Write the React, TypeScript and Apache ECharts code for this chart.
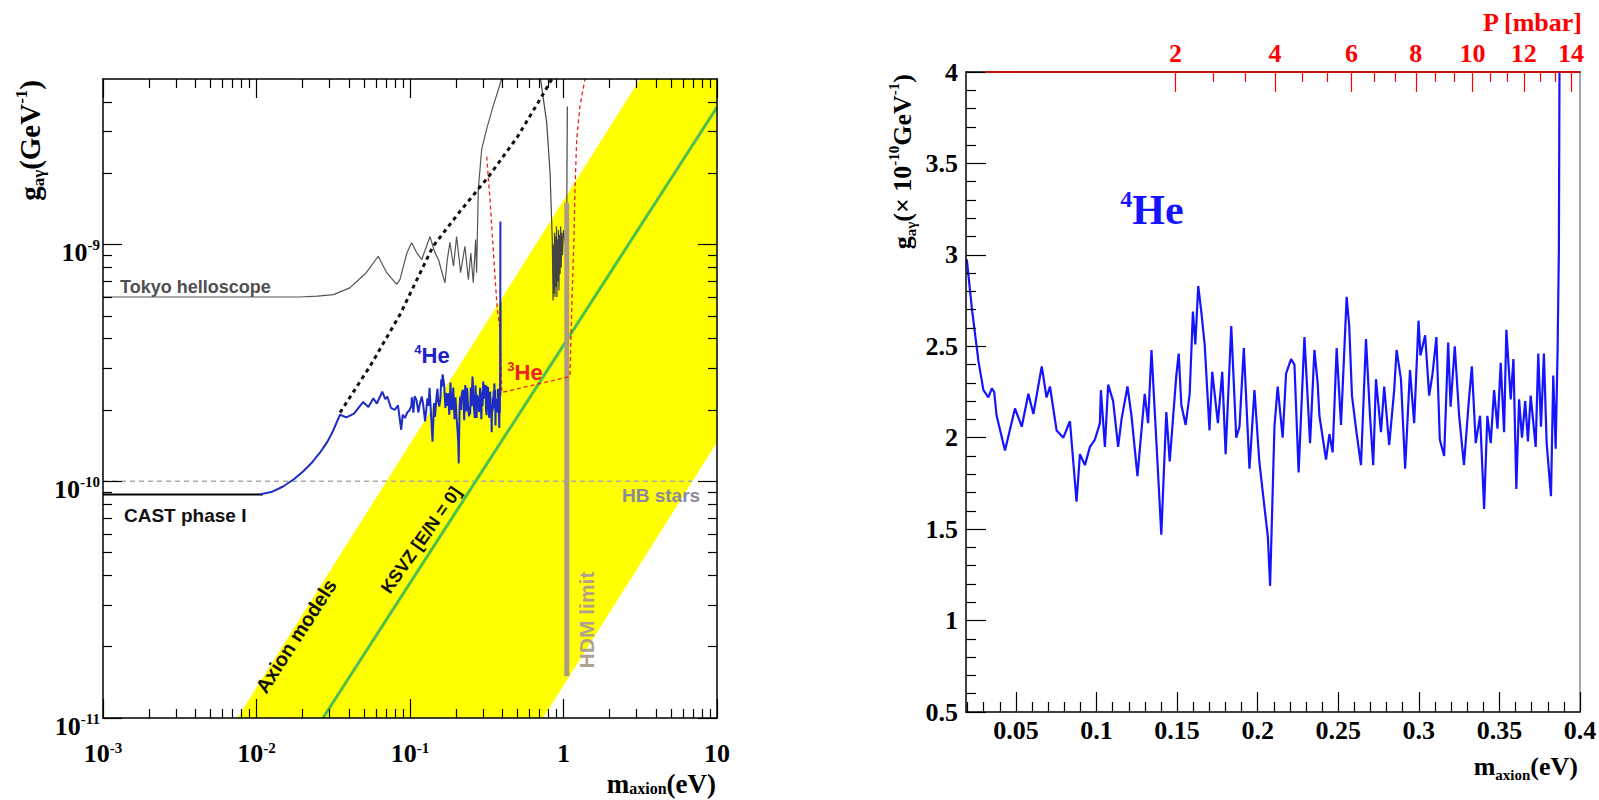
import React, { useEffect, useRef } from "react";
import * as echarts from "echarts";

const L10 = Math.log10;

// ---------------- Left panel (m in eV, g in GeV^-1) ----------------
const massDecades = [1e-3, 1e-2, 1e-1, 1, 10];
const couplingDecades = [1e-11, 1e-10, 1e-9];
const minorMultipliers = [2, 3, 4, 5, 6, 7, 8, 9];
const massRange = [1e-3, 10];
const couplingRange = [1e-11, 5e-9];

const axionBand = [
  [0.0075, 1e-11], [3.15, 5e-9], [10, 5e-9], [10, 1.46e-10], [0.735, 1e-11],
];
const ksvzLine = [[0.0271, 1e-11], [10, 3.8e-9]];
const hbStars = [[0.001, 1e-10], [6.9, 1e-10]];
const castPhase1 = [[0.001, 8.8e-11], [0.011, 8.8e-11]];
const hdmLimit = [[1.05, 1.5e-11], [1.05, 1.5e-9]];
const castStep = [[0.389, 2.3e-10], [0.389, 5.7e-10]];

// 4He low-mass part of the combined limit (units of 1e-10 GeV^-1)
const he4LowMass = [
  [0.0105, 0.88], [0.0125, 0.9], [0.0149, 0.95], [0.0175, 1.02], [0.0201, 1.1],
  [0.023, 1.2], [0.0259, 1.32], [0.029, 1.47], [0.0315, 1.63], [0.035, 1.91], [0.0385, 1.86],
];

const tokyo1998 = [
  [0.001, 6.0e-10], [0.0192, 6.0e-10], [0.025, 6.05e-10], [0.0317, 6.14e-10], [0.0405, 6.56e-10],
  [0.0519, 7.6e-10], [0.0621, 8.92e-10], [0.0705, 7.6e-10], [0.0819, 6.78e-10], [0.086, 7.1e-10],
  [0.0954, 9.2e-10], [0.1025, 1.017e-9], [0.1106, 9.22e-10], [0.1193, 8.64e-10], [0.135, 1.08e-9],
  [0.1456, 9.2e-10], [0.1531, 8.64e-10], [0.169, 6.89e-10], [0.175, 8.64e-10], [0.182, 1.02e-9],
  [0.192, 8.1e-10], [0.2012, 1.08e-9], [0.2136, 7.6e-10], [0.228, 9.83e-10], [0.24, 7.1e-10],
  [0.249, 9.2e-10], [0.2584, 6.89e-10], [0.2676, 1.05e-9], [0.2716, 7.6e-10], [0.2786, 1.71e-9],
  [0.293, 2.52e-9], [0.3157, 3.07e-9], [0.348, 3.84e-9], [0.3957, 5.0e-9], [0.42, 6.0e-9],
];

const tokyo2008 = [
  [0.7, 5.3e-9], [0.777, 3.28e-9], [0.817, 2.02e-9], [0.845, 1.05e-9], [0.855, 5.8e-10],
  [0.862, 1.0e-9], [0.868, 6.2e-10], [0.874, 1.12e-9], [0.88, 6.0e-10], [0.887, 1.08e-9],
  [0.893, 6.6e-10], [0.9, 1.19e-9], [0.906, 6.0e-10], [0.913, 1.05e-9], [0.92, 7.0e-10],
  [0.927, 1.15e-9], [0.934, 6.4e-10], [0.942, 1.1e-9], [0.95, 7.5e-10], [0.958, 1.19e-9],
  [0.966, 8.0e-10], [0.975, 1.12e-9], [0.985, 9.0e-10], [1.0, 1.15e-9], [1.03, 1.0e-9],
  [1.049, 1.19e-9], [1.055, 2.5e-9], [1.059, 3.83e-9],
];

const castExpected = [
  [0.035, 1.95e-10], [0.0549, 3.06e-10], [0.0861, 5.06e-10], [0.141, 9.8e-10],
  [0.2117, 1.38e-9], [0.322, 1.92e-9], [0.498, 2.83e-9], [0.703, 4.1e-9], [0.8415, 5.0e-9],
];

const he3Prospect = [
  [0.316, 2.35e-9], [0.332, 1.55e-9], [0.352, 8.6e-10], [0.369, 5.47e-10], [0.386, 4.38e-10],
  [0.392, 3.2e-10], [0.396, 2.37e-10], [1.102, 2.77e-10], [1.136, 5.85e-10], [1.17, 1.05e-9],
  [1.188, 1.71e-9], [1.219, 2.78e-9], [1.281, 3.85e-9], [1.38, 5.0e-9],
];

// ---------------- Right panel (4He data, g in 1e-10 GeV^-1) ----------------
const rightMassRange = [0.019, 0.4];
const rightCouplingRange = [0.5, 4];
const rightMassTicks = [0.05, 0.1, 0.15, 0.2, 0.25, 0.3, 0.35, 0.4];
const pressureTicks = [2, 4, 6, 8, 10, 12, 14];
const massPerSqrtMbar = 0.1054;
const pressureAxisStart = 0.085;

const he4Mass = [
  0.0195, 0.0226, 0.0267, 0.0298, 0.0329, 0.035, 0.0365, 0.038, 0.0432, 0.0494,
  0.0536, 0.0577, 0.0608, 0.066, 0.069, 0.0711, 0.0752, 0.0794, 0.0835, 0.0876,
  0.0897, 0.0928, 0.0959, 0.099, 0.1021, 0.1027, 0.1052, 0.1072, 0.1103, 0.1134,
  0.1155, 0.1192, 0.1217, 0.1254, 0.1299, 0.132, 0.1341, 0.1402, 0.1433, 0.1454,
  0.1495, 0.151, 0.1526, 0.1553, 0.1578, 0.1598, 0.1613, 0.1631, 0.165, 0.1671,
  0.1701, 0.1718, 0.1753, 0.178, 0.1801, 0.1836, 0.1867, 0.1887, 0.1914, 0.1949,
  0.198, 0.201, 0.2042, 0.2063, 0.2077, 0.2104, 0.2124, 0.2155, 0.2176, 0.2207,
  0.2228, 0.2254, 0.229, 0.2325, 0.2352, 0.2372, 0.2383, 0.2424, 0.2445, 0.2465,
  0.249, 0.2517, 0.2552, 0.2568, 0.2585, 0.261, 0.2641, 0.2672, 0.2697, 0.2717,
  0.2734, 0.2765, 0.2785, 0.2816, 0.2847, 0.2862, 0.2889, 0.2915, 0.2945, 0.2971,
  0.2998, 0.301, 0.3039, 0.3064, 0.3085, 0.3109, 0.313, 0.3157, 0.3182, 0.3197,
  0.3223, 0.325, 0.328, 0.331, 0.3329, 0.3353, 0.338, 0.3405, 0.3425, 0.3446,
  0.3467, 0.3488, 0.3508, 0.3529, 0.3543, 0.357, 0.3587, 0.3605, 0.3622, 0.364,
  0.366, 0.3677, 0.3694, 0.3725, 0.3741, 0.3758, 0.3776, 0.3793, 0.382, 0.3834,
  0.3849, 0.3861, 0.3869, 0.3875, 0.388,
];
const he4Coupling = [
  2.975, 2.71, 2.42, 2.26, 2.22, 2.27, 2.25, 2.12, 1.93, 2.16,
  2.06, 2.24, 2.13, 2.39, 2.22, 2.28, 2.04, 2.0, 2.09, 1.65,
  1.91, 1.85, 1.95, 1.99, 2.08, 2.26, 1.95, 2.29, 2.2, 1.95,
  2.1, 2.28, 2.12, 1.79, 2.24, 2.08, 2.48, 1.47, 2.14, 1.87,
  2.34, 2.46, 2.18, 2.07, 2.24, 2.69, 2.51, 2.83, 2.69, 2.51,
  2.04, 2.36, 2.08, 2.36, 1.91, 2.61, 2.0, 2.06, 2.49, 1.83,
  2.26, 1.87, 1.62, 1.46, 1.19, 2.06, 2.28, 2.0, 2.35, 2.43,
  2.4, 1.81, 2.55, 1.97, 2.48, 2.3, 2.12, 1.88, 2.02, 1.92,
  2.49, 2.07, 2.77, 2.61, 2.23, 2.05, 1.85, 2.54, 2.12, 1.85,
  2.32, 2.03, 2.28, 1.96, 2.26, 2.48, 2.32, 1.83, 2.37, 2.08,
  2.64, 2.45, 2.56, 2.23, 2.35, 2.55, 1.99, 1.9, 2.52, 2.17,
  2.5, 2.12, 1.85, 2.2, 2.39, 1.97, 2.12, 1.61, 2.12, 1.97,
  2.26, 2.05, 2.41, 2.03, 2.59, 2.21, 2.43, 1.72, 2.21, 2.0,
  2.2, 1.98, 2.23, 1.95, 2.46, 2.06, 2.46, 1.97, 1.68, 2.34,
  1.94, 2.48, 3.03, 4.6, 12.5,
];

// ---------------- helpers ----------------
const SERIF = "'Liberation Serif', 'Times New Roman', serif";
const SANS = "'Liberation Sans', Arial, sans-serif";
const toLog = (p: number[]) => [L10(p[0]), L10(p[1])];

const leftXMinor = massDecades.slice(0, -1).flatMap((d) => minorMultipliers.map((k) => L10(k * d)));
const leftYMinor = couplingDecades
  .flatMap((d) => minorMultipliers.map((k) => k * d))
  .filter((v) => v < couplingRange[1] * 0.999)
  .map(L10);
const rightMassMinor: number[] = [];
for (let i = 2; i < 40; i++) if (i % 5 !== 0) rightMassMinor.push(i / 100);
const rightCouplingMinor: number[] = [];
for (let i = 6; i < 40; i++) if (i % 5 !== 0) rightCouplingMinor.push(i / 10);
const pressureMinor: number[] = [];
for (let p = 2; p < 14; p += 2) pressureMinor.push(p + 2 / 3, p + 4 / 3);
const pToMass = (p: number) => massPerSqrtMbar * Math.sqrt(p);

const powRich = {
  b: { fontFamily: SERIF, fontWeight: "bold", fontSize: 26, lineHeight: 30, color: "#000" },
  s: { fontFamily: SERIF, fontWeight: "bold", fontSize: 15, lineHeight: 15, verticalAlign: "top", color: "#000" },
};
const powRichX = {
  b: { fontFamily: SERIF, fontWeight: "bold", fontSize: 26, lineHeight: 26, color: "#000" },
  s: { fontFamily: SERIF, fontWeight: "bold", fontSize: 15, lineHeight: 13, verticalAlign: "top", color: "#000" },
};
const powFmt = (v: number) => {
  const e = Math.round(v);
  if (e === 0) return "{b|1}";
  if (e === 1) return "{b|10}";
  return `{b|10}{s|${e}}`;
};

function tickAxis(gridIndex: number, position: string, range: number[], values: number[], len: number, color = "#000", extra: any = {}) {
  return {
    type: "value", gridIndex, position, min: range[0], max: range[1], z: 5,
    axisLine: { show: false, onZero: false },
    splitLine: { show: false },
    axisTick: { show: true, inside: true, length: len, customValues: values, lineStyle: { color, width: 1.2 } },
    axisLabel: { show: false },
    ...extra,
  };
}

function buildOption() {
  const lxr = massRange.map(L10);
  const lyr = couplingRange.map(L10);
  const frame = { show: true, onZero: false, lineStyle: { color: "#000", width: 1.5 } };
  const plainLabel = { fontFamily: SERIF, fontWeight: "bold", fontSize: 26, color: "#000" };

  const xAxis: any[] = [
    {
      ...tickAxis(0, "bottom", lxr, massDecades.map(L10), 19),
      axisLine: frame,
      axisLabel: { show: true, customValues: massDecades.map(L10), margin: 22, formatter: powFmt, rich: powRichX },
    },
    tickAxis(0, "bottom", lxr, leftXMinor, 9),
    { ...tickAxis(0, "top", lxr, massDecades.map(L10), 19), axisLine: frame },
    tickAxis(0, "top", lxr, leftXMinor, 9),
    {
      ...tickAxis(1, "bottom", rightMassRange, rightMassTicks, 20),
      axisLine: frame,
      axisLabel: { show: true, customValues: rightMassTicks, margin: 5, ...plainLabel },
    },
    tickAxis(1, "bottom", rightMassRange, rightMassMinor, 10),
    {
      ...tickAxis(1, "top", rightMassRange, pressureTicks.map(pToMass), 20, "#ff0000"),
      axisLine: frame,
      axisLabel: {
        show: true, customValues: pressureTicks.map(pToMass), margin: 6, ...plainLabel, color: "#ff0000",
        formatter: (v: number) => String(Math.round((v / massPerSqrtMbar) ** 2)),
      },
    },
    tickAxis(1, "top", rightMassRange, pressureMinor.map(pToMass), 10, "#ff0000"),
  ];

  const yAxis: any[] = [
    {
      ...tickAxis(0, "left", lyr, couplingDecades.map(L10), 19),
      axisLine: frame,
      axisLabel: { show: true, customValues: couplingDecades.map(L10), margin: 3, padding: [16, 0, 0, 0], formatter: powFmt, rich: powRich },
    },
    tickAxis(0, "left", lyr, leftYMinor, 9),
    { ...tickAxis(0, "right", lyr, couplingDecades.map(L10), 19), axisLine: frame },
    tickAxis(0, "right", lyr, leftYMinor, 9),
    {
      type: "value", gridIndex: 1, position: "left", min: 0.5, max: 4, interval: 0.5, z: 5,
      axisLine: frame, splitLine: { show: false },
      axisTick: { show: true, inside: true, length: 20, lineStyle: { color: "#000", width: 1.2 } },
      axisLabel: { show: true, margin: 8, ...plainLabel },
    },
    tickAxis(1, "left", rightCouplingRange, rightCouplingMinor, 10),
    {
      ...tickAxis(1, "right", rightCouplingRange, [], 0),
      axisTick: { show: false },
      axisLine: { show: true, onZero: false, lineStyle: { color: "#888", width: 1.5 } },
    },
  ];

  const L = (data: number[][], color: string, width: number, type: any = "solid", z = 3, extra: any = {}) => ({
    type: "line", xAxisIndex: 0, yAxisIndex: 0, data: data.map(toLog), showSymbol: false, symbol: "none",
    z, silent: true, lineStyle: { color, width, type }, ...extra,
  });

  const he4Left = [
    ...he4LowMass.map(([m, g]) => [m, g * 1e-10]),
    ...he4Mass.map((m, i) => [m, he4Coupling[i] * 1e-10]).filter((p) => p[0] >= 0.043),
  ];

  const series: any[] = [
    {
      type: "custom", xAxisIndex: 0, yAxisIndex: 0, z: 1, silent: true,
      data: [[0, -10]],
      renderItem: (_p: any, api: any) => ({
        type: "polygon",
        shape: { points: axionBand.map((p) => api.coord(toLog(p))) },
        style: { fill: "#ffff00" },
      }),
    },
    L(hbStars, "#aaaaaa", 1.3, [5, 4], 2),
    L(ksvzLine, "#4cc04c", 3, "solid", 2),
    L(tokyo1998, "#555555", 1.2, "solid", 3),
    L(tokyo2008, "#444444", 1.2, "solid", 3),
    L(hdmLimit, "#b09a82", 5, "solid", 3),
    L(castExpected, "#111111", 3, [4, 4], 3),
    L(castPhase1, "#000000", 2, "solid", 3),
    L(castStep, "#000000", 1.5, "solid", 3),
    L(he3Prospect, "#ee2020", 1.3, [4, 3], 3),
    L(he4Left, "#1c2cc4", 2, "solid", 4),
    {
      type: "line", xAxisIndex: 4, yAxisIndex: 4, showSymbol: false, symbol: "none", z: 3, silent: true,
      data: he4Mass.map((m, i) => [m, he4Coupling[i]]),
      lineStyle: { color: "#1414ff", width: 2.2 },
    },
    {
      type: "line", xAxisIndex: 4, yAxisIndex: 4, showSymbol: false, symbol: "none", z: 6, silent: true, clip: false,
      data: [[pToMass(pressureAxisStart), rightCouplingRange[1]], [rightMassRange[1], rightCouplingRange[1]]],
      lineStyle: { color: "#ff0000", width: 1.5 },
    },
  ];

  const txt = (x: number, y: number, text: string, rich: any, extra: any = {}, styleExtra: any = {}) => ({
    type: "text", x, y, z: 20, silent: true, ...extra,
    style: { text, rich, align: "center", verticalAlign: "middle", ...styleExtra },
  });
  const sansB = (size: number, fill: string, more: any = {}) => ({ fontFamily: SANS, fontWeight: "bold", fontSize: size, fill, ...more });
  const serifB = (size: number, fill: string, more: any = {}) => ({ fontFamily: SERIF, fontWeight: "bold", fontSize: size, fill, ...more });

  const graphic: any[] = [
    txt(120, 287, "{a|Tokyo helloscope}", { a: sansB(18, "#505050") }, {}, { align: "left" }),
    txt(124, 515, "{a|CAST phase I}", { a: sansB(19, "#111111") }, {}, { align: "left" }),
    txt(622, 495, "{a|HB stars}", { a: sansB(19, "#8a8aa0") }, {}, { align: "left" }),
    txt(432, 355, "{s|4}{a|He}", { a: sansB(22, "#2020c8", { lineHeight: 24 }), s: sansB(13, "#2020c8", { verticalAlign: "top", lineHeight: 12 }) }),
    txt(525, 372, "{s|3}{a|He}", { a: sansB(22, "#ee2020", { lineHeight: 24 }), s: sansB(13, "#ee2020", { verticalAlign: "top", lineHeight: 12 }) }),
    txt(296, 636, "{a|Axion models}", { a: sansB(20, "#111111") }, { rotation: (57 * Math.PI) / 180 }),
    txt(421, 540, "{a|KSVZ [E/N = 0]}", { a: sansB(18, "#111111") }, { rotation: (55 * Math.PI) / 180 }),
    txt(586, 620, "{a|HDM limit}", { a: sansB(21, "#b0a090") }, { rotation: Math.PI / 2 }),
    txt(716, 784, "{m|m}{s|axion}{m|(eV)}",
      { m: serifB(27, "#000", { lineHeight: 24 }), s: serifB(16, "#000", { verticalAlign: "bottom", lineHeight: 12 }) },
      {}, { align: "right" }),
    txt(30, 80, "{m|g}{s|aγ}{m|(GeV}{u|-1}{m|)}",
      { m: serifB(29, "#000", { lineHeight: 34 }), s: serifB(17, "#000", { verticalAlign: "bottom", lineHeight: 16 }), u: serifB(17, "#000", { verticalAlign: "top", lineHeight: 16 }) },
      { rotation: Math.PI / 2 }, { align: "right" }),
    txt(1152, 210, "{s|4}{a|He}", { a: serifB(42, "#1414ff", { lineHeight: 46 }), s: serifB(24, "#1414ff", { verticalAlign: "top", lineHeight: 24 }) }),
    txt(1582, 22, "{a|P [mbar]}", { a: serifB(26, "#ff0000") }, {}, { align: "right" }),
    txt(1578, 766, "{m|m}{s|axion}{m|(eV)}",
      { m: serifB(26, "#000", { lineHeight: 32 }), s: serifB(15, "#000", { verticalAlign: "bottom", lineHeight: 15 }) },
      {}, { align: "right" }),
    txt(902, 74, "{m|g}{s|aγ}{m|(× 10}{u|-10}{m|GeV}{u|-1}{m|)}",
      { m: serifB(26, "#000", { lineHeight: 32 }), s: serifB(15, "#000", { verticalAlign: "bottom", lineHeight: 15 }), u: serifB(15, "#000", { verticalAlign: "top", lineHeight: 15 }) },
      { rotation: Math.PI / 2 }, { align: "right" }),
  ];

  return {
    animation: false,
    backgroundColor: "#ffffff",
    grid: [
      { left: 103, top: 79, width: 614, height: 639, show: false, containLabel: false, outerBoundsMode: "none" },
      { left: 966, top: 72, width: 614, height: 640, show: false, containLabel: false, outerBoundsMode: "none" },
    ],
    xAxis,
    yAxis,
    series,
    graphic,
  };
}

export default function App() {
  const ref = useRef<HTMLDivElement>(null);
  useEffect(() => {
    if (!ref.current) return;
    const chart = echarts.init(ref.current, undefined, { renderer: "svg" });
    chart.setOption(buildOption() as any);
    return () => chart.dispose();
  }, []);
  return (
    <div
      ref={ref}
      style={{ position: "absolute", left: 0, top: 0, width: 1599, height: 800, background: "#fff" }}
    />
  );
}
